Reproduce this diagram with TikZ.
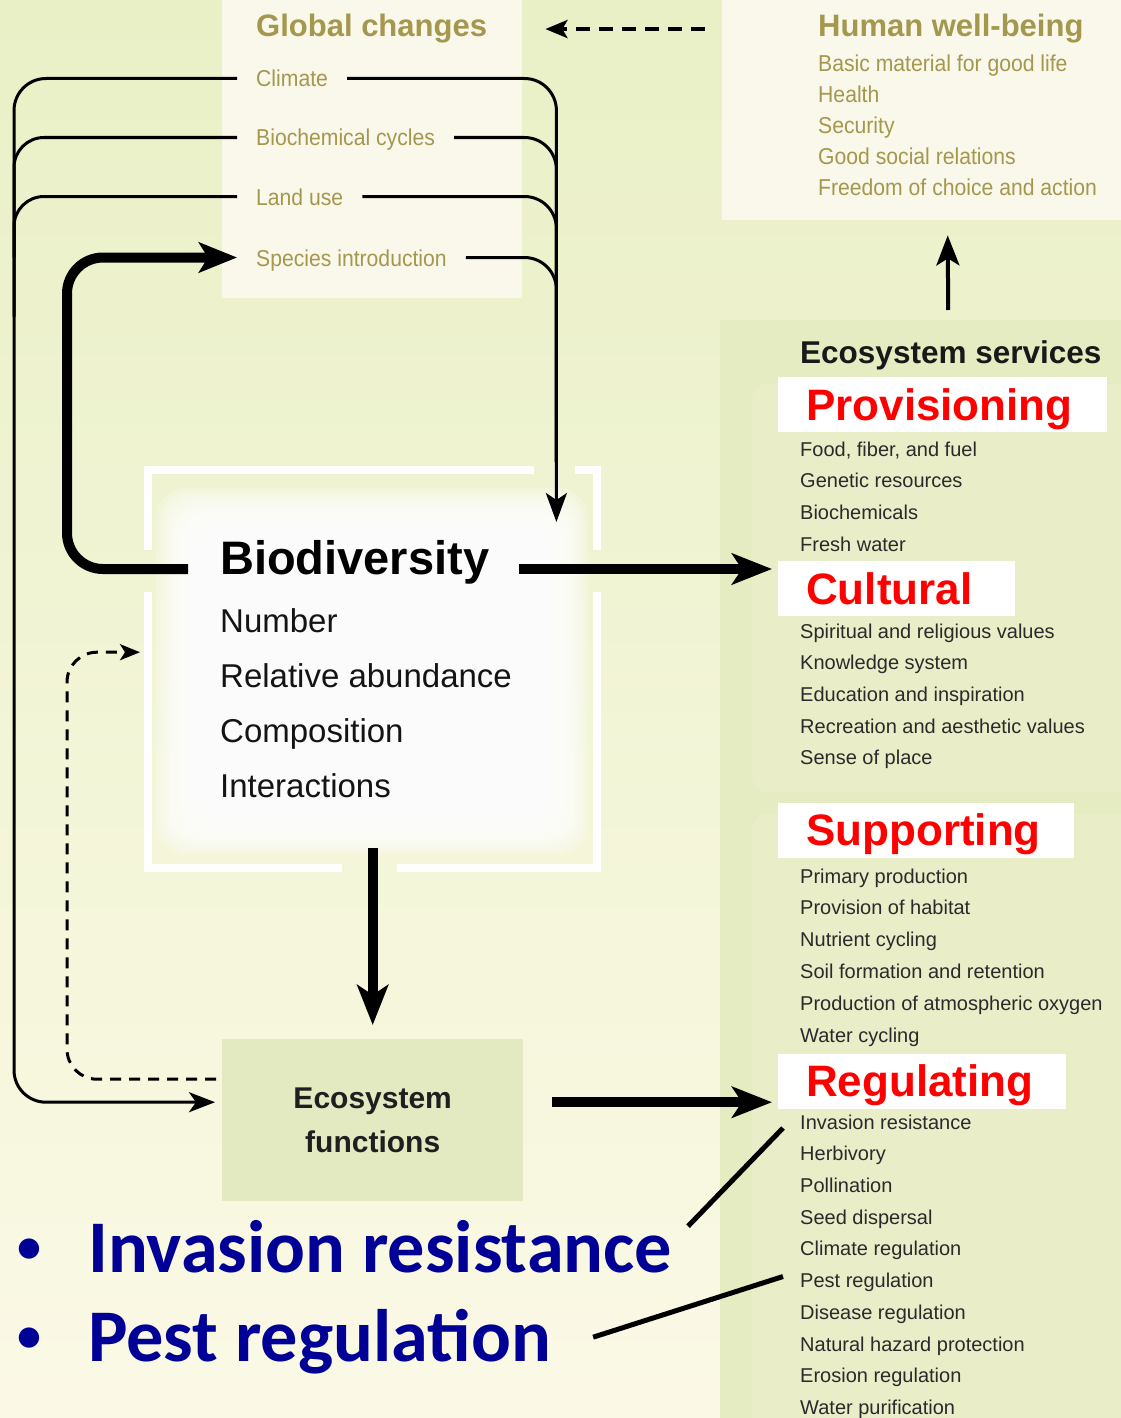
\documentclass[tikz,border=0pt]{standalone}
\usepackage{fontspec}
\setmainfont{Liberation Sans}
\newfontfamily\condfont[FakeStretch=0.92]{Liberation Sans}
\newfontfamily\calfont{Carlito}
\usetikzlibrary{arrows.meta,calc}
\definecolor{bgtop}{HTML}{E9F0C6}
\definecolor{bgbot}{HTML}{FBF9E6}
\definecolor{panel}{HTML}{E6ECC2}
\definecolor{panelin}{HTML}{E9EEC8}
\definecolor{boxcream}{HTML}{F9F8EA}
\definecolor{efbox}{HTML}{E3EAC2}
\definecolor{olive}{HTML}{A4974E}
\definecolor{itemgray}{HTML}{2A2A2A}
\definecolor{bulletblue}{HTML}{000096}
\definecolor{labelred}{HTML}{FF0000}
\begin{document}
\begin{tikzpicture}[x=1pt,y=-1pt,
  thinline/.style={line width=3pt,black},
  thickline/.style={line width=10pt,black},
  dashline/.style={line width=3pt,black,dash pattern=on 11pt off 8pt},
  bighead/.style={-{Stealth[length=40pt,width=31pt,inset=10pt]}},
  gcitem/.style={anchor=base west,inner xsep=19pt,inner ysep=0pt,text height=17pt,text depth=0pt,text=olive,font=\condfont\fontsize{23}{27}\selectfont},
  hwbitem/.style={anchor=base west,inner sep=0pt,text=olive,font=\condfont\fontsize{23}{27}\selectfont},
  header/.style={anchor=base west,inner sep=0pt,font=\fontsize{31}{36}\selectfont\bfseries},
  bditem/.style={anchor=base west,inner sep=0pt,font=\fontsize{33}{38}\selectfont,text=black!92},
  esitem/.style={anchor=west,inner sep=0pt,text height=14.3pt,text depth=0pt,font=\fontsize{20}{24}\selectfont,text=itemgray},
  redlabel/.style={anchor=west,fill=white,inner xsep=28pt,inner ysep=0pt,minimum height=55pt,align=left,text=labelred,text height=31.5pt,text depth=0pt,font=\fontsize{44}{50}\selectfont\bfseries},
  bullettext/.style={anchor=base west,inner sep=0pt,text=bulletblue,font=\calfont\bfseries\fontsize{74.3}{80}\selectfont},
  bulletdot/.style={anchor=base,inner sep=0pt,text=bulletblue,font=\calfont\bfseries\fontsize{48}{52}\selectfont},
]
\useasboundingbox (0,0) rectangle (1121,1418);
\shade[top color=bgtop,bottom color=bgbot] (0,0) rectangle (1121,1418);

% panels and boxes
\node[fill=panel,inner sep=0pt,minimum width=401pt,minimum height=1098pt,anchor=north west] (espanel) at (720,320) {};
\fill[panelin,rounded corners=16pt] (752,384) rectangle (1140,792);
\fill[panelin,rounded corners=16pt] (752,814) rectangle (1140,1440);
\node[fill=boxcream,inner sep=0pt,minimum width=300pt,minimum height=298pt,anchor=north west] (gcbox) at (222,0) {};
\node[fill=boxcream,inner sep=0pt,minimum width=399pt,minimum height=220pt,anchor=north west] (hwbbox) at (722,0) {};
\node[fill=efbox,inner sep=0pt,minimum width=301pt,minimum height=162pt,anchor=north west,align=center,font=\fontsize{30}{44}\selectfont\bfseries,text=black!88] (ef) at (222,1039) {Ecosystem\\functions};
\node[inner sep=0pt,minimum width=449pt,minimum height=398pt,anchor=north west] (bdbox) at (148,470) {};

% white frame around biodiversity
\draw[white,line width=8pt] (148,550) -- (148,470) -- (534,470);
\draw[white,line width=8pt] (575,470) -- (597,470) -- (597,550);
\draw[white,line width=8pt] (148,592) -- (148,868) -- (342,868);
\draw[white,line width=8pt] (397,868) -- (597,868) -- (597,592);
% soft white glow
\foreach \k in {0,...,11}
  \fill[white,opacity=0.22,rounded corners=30pt] ({156+3.5*\k},{488+3.5*\k}) rectangle ({588-3.5*\k},{854-3.5*\k});

% Global changes
\node[header,text=olive] (gc) at (256,37) {Global changes};
\node[gcitem] (climate) at (237,87) {Climate};
\node[gcitem] (biochem) at (237,146) {Biochemical cycles};
\node[gcitem] (landuse) at (237,205) {Land use};
\node[gcitem] (species) at (237,266) {Species introduction};

% Human well-being
\node[header,text=olive] (hwb) at (818,37) {Human well-being};
\foreach \t [count=\i from 0] in {Basic material for good life,Health,Security,Good social relations,Freedom of choice and action}
  \node[hwbitem] (hwb\i) at (818,{72+30.8*\i}) {\t};

% Biodiversity
\node[anchor=base west,inner sep=0pt,font=\fontsize{47}{50}\selectfont\bfseries,text height=10pt,text depth=0pt] (biodiv) at (220,574) {Biodiversity};
\node[bditem] (bd1) at (220,632) {Number};
\node[bditem] (bd2) at (220,687) {Relative abundance};
\node[bditem] (bd3) at (220,742) {Composition};
\node[bditem] (bd4) at (220,797) {Interactions};

% Ecosystem services
\node[header,text=black!90,font=\fontsize{31.5}{36}\selectfont\bfseries] (es) at (800,363) {Ecosystem services};
\node[redlabel,text width=273pt] (prov) at (778,404.5) {Provisioning};
\node[redlabel,text width=181pt] (cult) at (778,588.5) {Cultural};
\node[redlabel,text width=240pt] (supp) at (778,830) {Supporting};
\node[redlabel,text width=232pt] (reg) at (778,1081) {Regulating};
\foreach \t [count=\i] in {{Food, fiber, and fuel},Genetic resources,Biochemicals,Fresh water}
  \node[esitem] (p\i) at (800,{449+31.7*(\i-1)}) {\t};
\foreach \t [count=\i] in {Spiritual and religious values,Knowledge system,Education and inspiration,Recreation and aesthetic values,Sense of place}
  \node[esitem] (c\i) at (800,{631+31.7*(\i-1)}) {\t};
\foreach \t [count=\i] in {Primary production,Provision of habitat,Nutrient cycling,Soil formation and retention,Production of atmospheric oxygen,Water cycling}
  \node[esitem] (s\i) at (800,{876+31.8*(\i-1)}) {\t};
\foreach \t [count=\i] in {Invasion resistance,Herbivory,Pollination,Seed dispersal,Climate regulation,Pest regulation,Disease regulation,Natural hazard protection,Erosion regulation,Water purification}
  \node[esitem] (r\i) at (800,{1122+31.7*(\i-1)}) {\t};

% bullets
\node[bulletdot] (b1) at (29,1262) {•};
\node[bullettext] (inv) at (88,1272) {Invasion resistance};
\node[bulletdot] (b2) at (29,1351) {•};
\node[bullettext] (pest) at (88,1361) {Pest regulation};

% ---- connectors ----
% global changes -> ecosystem functions (left side)
\draw[thinline,rounded corners=32pt,-{Stealth[length=26pt,width=20pt,inset=7pt]}] (climate.west) -- ++(-223,0) |- ($(ef.west)+(-7,-18)$);
\draw[thinline,rounded corners=30pt] (biochem.west) -- ++(-223,0) -- ++(0,120);
\draw[thinline,rounded corners=30pt] (landuse.west) -- ++(-223,0) -- ++(0,120);
% global changes -> biodiversity (right side)
\coordinate (bdtip) at ($(bdbox.north east)+(-41,52)$);
\draw[thinline,rounded corners=32pt,-{Stealth[length=29pt,width=21pt,inset=7pt]}] (climate.east) -| (bdtip);
\draw[thinline,rounded corners=32pt] (biochem.east) -| ($(bdtip)+(0,-60)$);
\draw[thinline,rounded corners=32pt] (landuse.east) -| ($(bdtip)+(0,-60)$);
\draw[thinline,rounded corners=32pt] (species.east) -| ($(bdtip)+(0,-60)$);
% biodiversity -> species introduction
\draw[thickline,rounded corners=36pt,-{Stealth[length=38pt,width=30pt,inset=9pt]}] ($(biodiv.west)+(-32,0)$) -- ++(-121,0) |- (species.west);
% biodiversity -> services
\draw[thickline,bighead,shorten >=6pt] ($(biodiv.east)+(30,0)$) -- (biodiv.east -| cult.west);
% biodiversity -> ecosystem functions
\draw[thickline,bighead] ($(bdbox.south)+(0,-20)$) -- ($(ef.north)+(0,-14)$);
% ecosystem functions -> regulating
\coordinate (efout) at ($(ef.east)+(29,-18)$);
\draw[thickline,bighead,shorten >=6pt] (efout) -- (efout -| reg.west);
% ecosystem functions -> biodiversity (dashed feedback)
\draw[dashline,rounded corners=30pt,-{Stealth[length=20pt,width=16pt,inset=5pt]}] ($(ef.west)+(-6,-41)$) -- ++(-149,0) |- ($(bdbox.west)+(-8,-17)$);
% services -> human well-being
\draw[line width=4pt,-{Stealth[length=30pt,width=23pt,inset=7pt]}] ($(espanel.north)+(27.5,-10)$) -- ($(hwbbox.south)+(26,15)$);
% human well-being -> global changes (dashed)
\draw[line width=4pt,dash pattern=on 14pt off 9pt,-{Stealth[length=22pt,width=18pt,inset=5pt]}] ($(hwbbox.west |- gc.east)+(-17,0)$) -- ($(gcbox.east |- gc.east)+(23,0)$);
% pointer lines
\draw[line width=5pt] ($(inv.east)+(16,-20)$) -- ($(r1.west)+(-17,6)$);
\draw[line width=5pt] ($(pest.east)+(42,-4)$) -- ($(r6.west)+(-17,-4)$);
\end{tikzpicture}
\end{document}
